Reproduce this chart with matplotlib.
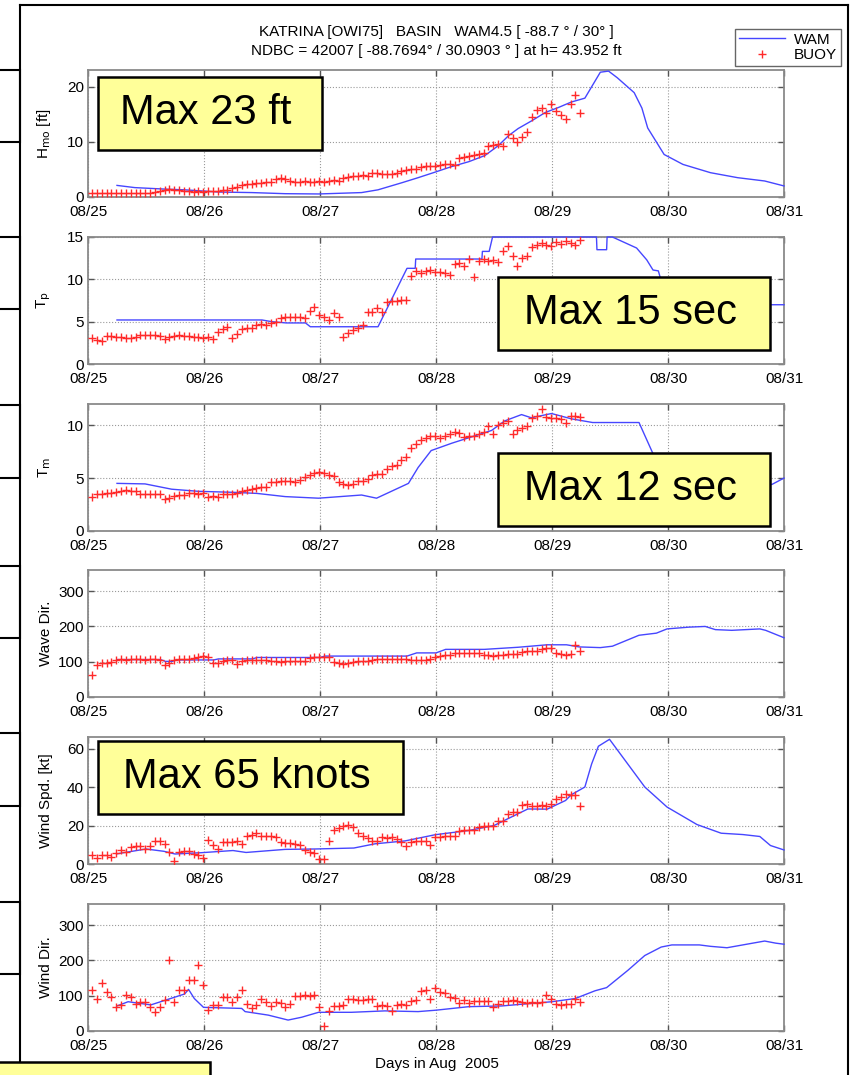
import numpy as np
import matplotlib
matplotlib.use('Agg')
import matplotlib.pyplot as plt
from matplotlib.patches import Rectangle
from matplotlib.lines import Line2D

plt.rcParams['font.family'] = ['Liberation Sans', 'DejaVu Sans']

day_ticks = [25, 26, 27, 28, 29, 30, 31]
day_labels = ['08/25', '08/26', '08/27', '08/28', '08/29', '08/30', '08/31']

# buoy obs, hourly from 08/25 00:50
buoy_hmo = [0.7, 0.7, 0.7, 0.7, 0.7, 0.7, 0.7, 0.7, 0.7, 0.7, 0.7, 0.7, 0.7,
            0.9, 1.0, 1.3, 1.4, 1.3, 1.2, 1.1, 1.0, 0.9, 1.0, 0.9, 1.0, 1.0, 1.1, 1.3, 1.2,
            1.7, 1.9, 2.1, 2.3, 2.3, 2.5, 2.6, 2.7, 2.8, 3.3, 3.4, 3.3,
            2.9, 2.8, 2.8, 2.9, 2.7, 2.8, 2.9, 2.8, 2.9, 3.0, 2.9,
            3.4, 3.6, 3.8, 3.8, 3.9, 3.8, 4.4, 4.3, 4.2, 4.1, 4.2, 4.3,
            4.7, 4.8, 5.0, 5.1, 5.5, 5.6, 5.7, 5.6, 5.8, 5.9, 5.9, 5.8,
            7.0, 7.3, 7.5, 7.6, 7.8, 8.0, 9.2, 9.4, 9.6, 9.3, 11.4,
            10.6, 10.0, 10.8, 11.8, 14.5, 15.8, 16.2, 15.3, 16.8, 15.6,
            14.8, 14.2, 16.8, 18.5, 15.3]
buoy_tp = [3.1, 2.8, 2.7, 3.3, 3.3, 3.2, 3.2, 3.1, 3.1, 3.2,
           3.4, 3.4, 3.4, 3.4, 3.3, 2.9, 3.2, 3.3, 3.4, 3.3, 3.3,
           3.2, 3.2, 3.1, 3.2, 2.9, 3.8, 4.1, 4.4, 3.1, 3.5,
           4.1, 4.2, 4.3, 4.6, 4.7, 4.6, 4.8, 5.0, 5.4, 5.5, 5.5, 5.6, 5.5, 5.4,
           6.3, 6.7, 5.8, 5.5, 5.2, 6.0, 5.5, 3.2, 3.7, 4.0, 4.3, 4.6,
           6.1, 6.2, 6.6, 6.1, 7.3, 7.5, 7.5, 7.6, 7.6, 10.4,
           11.0, 10.8, 11.0, 11.1, 10.9, 10.9, 10.8, 10.5, 11.8, 11.9, 11.6,
           12.4, 10.3, 12.2, 12.4, 12.2, 12.3, 12.0, 13.4, 13.9, 12.8, 11.6,
           12.5, 12.7, 13.8, 14.0, 14.3, 14.1, 13.9, 14.4, 14.2, 14.5, 14.3, 14.1, 14.7]
buoy_tm = [3.2, 3.5, 3.5, 3.6, 3.6, 3.7, 3.8, 3.9, 3.8, 3.8,
           3.5, 3.5, 3.5, 3.5, 3.5, 3.0, 3.1, 3.3, 3.4, 3.4,
           3.6, 3.6, 3.5, 3.6, 3.2, 3.3, 3.2, 3.5, 3.5, 3.5, 3.6,
           3.8, 3.9, 4.0, 4.1, 4.2, 4.2, 4.6, 4.6, 4.7, 4.7, 4.7, 4.6, 4.8,
           5.1, 5.3, 5.5, 5.6, 5.5, 5.3, 5.2, 4.6, 4.4, 4.3, 4.4,
           4.7, 4.7, 4.9, 5.3, 5.4, 5.4, 5.9, 6.1, 6.2, 6.7, 7.0, 7.8, 8.2,
           8.6, 8.8, 9.0, 9.0, 8.8, 9.0, 9.2, 9.4, 9.3, 8.9, 9.0, 9.0,
           9.2, 9.4, 9.9, 9.2, 10.0, 10.2, 10.4, 9.2, 9.5, 9.7, 9.9,
           10.7, 10.9, 11.5, 10.8, 10.7, 10.7, 10.6, 10.2, 10.9, 10.9, 10.8]
buoy_wavedir = [62, 92, 96, 97, 98, 106, 107, 106, 107, 108, 107, 106, 107, 108, 106,
                90, 97, 106, 107, 108, 107, 110, 113, 116, 112, 97, 96,
                103, 104, 105, 93, 101, 104, 105, 106, 105, 106,
                102, 101, 100, 101, 101, 102, 101, 103, 110, 112, 113, 113, 112,
                100, 95, 93, 95, 99, 101, 102, 103,
                106, 107, 108, 108, 109, 108, 108, 107, 106, 106, 105, 106, 107,
                113, 116, 118, 118, 124, 125, 126, 125, 124, 125,
                120, 118, 117, 118, 120, 122, 123, 122, 127, 129, 130, 131,
                135, 138, 139, 125, 121, 120, 123, 146, 129]
buoy_wspd = [4.9, 3.1, 4.8, 4.9, 3.8, 5.6, 7.3, 6.1, 8.8, 9.2, 9.5, 7.9, 9.1,
             11.8, 12.2, 10.5, 6.1, 1.7, 6.3, 6.6, 6.5, 5.2, 4.6, 3.1,
             12.6, 10.1, 7.9, 11.2, 11.4, 11.6, 12.1, 10.5, 14.6, 15.3, 16.2,
             14.5, 14.3, 14.4, 14.0, 11.3, 11.0, 10.8, 10.6, 9.9, 7.4, 6.3, 5.6,
             2.8, 2.6, 12.2, 17.5, 18.6, 19.8, 20.1, 19.4, 16.0, 14.5, 13.6,
             12.2, 12.1, 13.9, 13.6, 13.8, 13.2, 11.6, 9.6, 11.5, 12.2, 12.2, 12.0,
             10.1, 13.9, 14.2, 14.4, 14.5, 14.3, 17.2, 17.6, 17.5, 17.8,
             19.0, 19.6, 19.8, 20.0, 22.2, 22.4, 25.8, 27.2, 26.8, 30.5, 31.2,
             30.0, 30.3, 30.6, 30.4, 31.0, 33.8, 35.0, 36.3, 35.8, 36.1, 30.0]
buoy_winddir = [116, 92, 135, 111, 95, 67, 74, 102, 95, 76, 83, 83, 67, 55, 67, 88,
                201, 83, 116, 116, 144, 144, 187, 130, 59, 74, 74, 97, 97, 83, 95,
                116, 76, 64, 74, 90, 83, 71, 83, 80, 69, 76, 98, 100, 102, 99, 101,
                67, 14, 58, 70, 72, 75, 90, 90, 88, 88, 90, 92, 72, 73, 70, 58, 74,
                76, 74, 85, 87, 112, 116, 90, 121, 110, 108, 95, 93, 78, 88, 78,
                86, 84, 86, 85, 67, 76, 86, 85, 87, 86, 81, 80, 82, 79, 81, 102,
                90, 76, 75, 76, 77, 92, 83]

# WAM model, vertices as (hour after 08/25 00:00, value)
wam_hmo_h = [6, 9.7, 16.6, 20, 27, 33.9, 40.8, 47.7, 56.6, 60, 65, 68.3, 71.8, 75.2,
             78.8, 82.1, 84.9, 87, 89, 91.8, 94.6, 97.3, 100, 102.8, 104.5, 106, 107.7,
             109.5, 113, 114.6, 115.8, 117.5, 119.2, 123.1, 128.8, 134.4, 140, 144]
wam_hmo = [2.1, 1.7, 1.4, 1.3, 0.9, 0.8, 0.6, 0.55, 0.8, 1.3, 2.6, 3.5, 4.5, 5.5,
           6.4, 7.5, 9.3, 11.1, 12.4, 13.8, 15.3, 16.2, 17.2, 17.9, 20.4, 22.6, 22.8,
           21.6, 18.9, 16.1, 12.5, 10.1, 7.7, 5.9, 4.4, 3.5, 2.9, 2.0]
wam_tp_h = [6, 36, 38, 41, 45, 46, 60, 66, 67.7, 67.8, 81.5, 81.6, 83, 83.7,
            105.2, 105.3, 107.3, 107.4, 108.5, 113.5, 115.6, 116.9, 118, 119, 121, 123, 144]
wam_tp = [5.2, 5.2, 5.0, 4.85, 4.85, 4.4, 4.4, 11.3, 11.3, 12.4, 12.4, 13.3, 13.3, 15.0,
          15.0, 13.5, 13.5, 15.0, 15.0, 13.7, 12.3, 11.1, 11.0, 9.0, 8.0, 7.0, 7.0]
wam_tm_h = [6, 11.8, 17.3, 22.8, 30.4, 35, 40.8, 47.7, 56.6, 59.7, 66.3, 68.3, 71, 75.3,
            79.4, 83.5, 86.2, 89.7, 91.7, 95.9, 100, 104.4, 114, 116.9, 119, 122, 132,
            141.5, 144]
wam_tm = [4.5, 4.45, 3.95, 3.75, 3.65, 3.55, 3.25, 3.1, 3.4, 3.1, 4.5, 6.0, 7.6, 8.3,
          8.9, 9.5, 10.4, 11.0, 10.7, 11.1, 10.6, 10.25, 10.25, 7.3, 5.5, 4.8, 4.6,
          4.4, 5.0]
wam_wavedir_h = [6, 15, 16, 17.5, 18, 26, 27, 34, 35, 48, 49, 66, 68, 72, 74, 82, 89, 95,
                 99, 101.6, 106, 108.5, 114, 117.6, 119.8, 124.3, 127.7, 129.8, 133.2,
                 139, 140.2, 144]
wam_wavedir = [106, 106, 101, 101, 105, 105, 108, 108, 112, 112, 116, 116, 125, 125, 135,
               135, 141, 148, 148, 142, 140, 144, 175, 181, 193, 198, 200, 191, 189, 193,
               189, 168]
wam_wspd_h = [6, 12, 15.7, 18, 23.6, 30, 32.7, 40.8, 47, 55, 59.4, 65.6, 71.8, 79,
              84, 91, 95, 98.8, 100, 102.8, 104.2, 105.6, 107.9, 115.2, 119.8, 126, 131,
              135.5, 139, 141.2, 144]
wam_wspd = [5.3, 7.8, 6.6, 5.2, 5.9, 7.0, 6.0, 7.6, 7.8, 8.3, 10.5, 12.0, 15.2, 17.5,
            20.0, 28.6, 28.5, 33.0, 36.0, 40.0, 52.0, 61.2, 64.8, 40.0, 29.6, 20.5, 16.0,
            15.3, 14.3, 9.6, 7.3]
wam_winddir_h = [6, 8.3, 13, 20, 20.8, 22, 23.9, 31.8, 32.5, 37.3, 41.4, 44.2, 47.7, 54.5,
                 61.4, 68.3, 72, 78.8, 85.6, 89, 96, 100.8, 104.9, 107.3, 111.7, 115.2,
                 118.6, 120.8, 126.5, 128.8, 132.2, 136.7, 140, 142.3, 144]
wam_winddir = [71, 83, 74, 105, 118, 92, 67, 64, 55, 45, 31, 39, 53, 53, 57, 55, 59, 69,
               71, 75, 83, 92, 114, 123, 172, 214, 238, 244, 244, 240, 236, 247, 255,
               249, 246]

panels = [
    (r'H$_{\rm mo}$ [ft]', wam_hmo_h, wam_hmo, buoy_hmo, 23, [0, 10, 20]),
    (r'T$_{\rm p}$', wam_tp_h, wam_tp, buoy_tp, 15, [0, 5, 10, 15]),
    (r'T$_{\rm m}$', wam_tm_h, wam_tm, buoy_tm, 12, [0, 5, 10]),
    ('Wave Dir.', wam_wavedir_h, wam_wavedir, buoy_wavedir, 360, [0, 100, 200, 300]),
    ('Wind Spd. [kt]', wam_wspd_h, wam_wspd, buoy_wspd, 66, [0, 20, 40, 60]),
    ('Wind Dir.', wam_winddir_h, wam_winddir, buoy_winddir, 360, [0, 100, 200, 300]),
]

W, H = 856, 1075
fig = plt.figure(figsize=(W / 100, H / 100), dpi=100)

tops = [70, 237, 404, 570, 737, 904]
axh = 127
axes = []
for top, (ylab, wh, wv, bv, ymax, yt) in zip(tops, panels):
    ax = fig.add_axes([88 / W, 1 - (top + axh) / H, 696 / W, axh / H])
    xw = 25 + np.array(wh) / 24.0
    xb = 25 + (np.arange(len(bv)) + 0.83) / 24.0
    ax.plot(xw, wv, color='#4646ff', lw=1.0, label='WAM', clip_on=False, zorder=3)
    ax.plot(xb, bv, '+', color='#ff2a2a', ms=6, mew=1.0, label='BUOY', zorder=3)
    ax.set_xlim(25, 31)
    ax.set_ylim(0, ymax)
    ax.set_xticks(day_ticks)
    ax.set_xticklabels(day_labels)
    ax.set_yticks(yt)
    ax.grid(True, linestyle=':', color='#9a9a9a', lw=0.8)
    ax.tick_params(direction='in', top=True, right=True, length=4, width=1,
                   labelsize=11, color='#555555')
    ax.tick_params(axis='x', pad=6)
    ax.tick_params(axis='y', pad=3)
    for s in ax.spines.values():
        s.set_color('#8a8a8a')
        s.set_linewidth(1.3)
        s.set_zorder(2.5)
    ax.set_ylabel(ylab, fontsize=11)
    ax.yaxis.set_label_coords(-0.05, 0.5)
    axes.append(ax)

fig.text(436 / W, 1 - 32 / H, 'KATRINA [OWI75]   BASIN   WAM4.5 [ -88.7 \u00b0 / 30\u00b0 ]',
         ha='center', va='center', fontsize=11)
fig.text(436 / W, 1 - 51 / H, 'NDBC = 42007 [ -88.7694\u00b0 / 30.0903 \u00b0 ] at h= 43.952 ft',
         ha='center', va='center', fontsize=11)
fig.text(437 / W, 1 - 1064 / H, 'Days in Aug  2005', ha='center', va='center', fontsize=11)

h, l = axes[0].get_legend_handles_labels()
fig.legend(h, l, loc='upper right', bbox_to_anchor=(841 / W, 1 - 29 / H), fontsize=11,
           frameon=True, fancybox=False, edgecolor='#666666', framealpha=1,
           borderpad=0.25, labelspacing=0.1, handlelength=3.0, handletextpad=0.6,
           borderaxespad=0)

# outer frame
for xs, ys in [([20, 20], [5, 1075]), ([20, 848], [5, 5]), ([848, 848], [5, 1075])]:
    fig.add_artist(Line2D(np.array(xs) / W, 1 - np.array(ys) / H, color='black', lw=1.5))

# side boxes cut by the left edge
for y0, y1 in [(70, 142), (237, 309), (405, 478), (566, 638), (733, 806), (902, 974)]:
    fig.add_artist(Rectangle((-10 / W, 1 - y1 / H), 30 / W, (y1 - y0) / H,
                             facecolor='white', edgecolor='black', lw=1.5))

# yellow call-outs
notes = [('Max 23 ft', 98, 322, 77, 150),
         ('Max 15 sec', 498, 770, 277, 350),
         ('Max 12 sec', 498, 770, 453, 526),
         ('Max 65 knots', 98, 403, 741, 814),
         ('', -10, 210, 1062, 1090)]
for txt, x0, x1, y0, y1 in notes:
    fig.add_artist(Rectangle((x0 / W, 1 - y1 / H), (x1 - x0) / W, (y1 - y0) / H,
                             facecolor='#ffff99', edgecolor='black', lw=1.8, zorder=5))
    if txt:
        fig.text((x0 + x1) / 2 / W - 4 / W, 1 - (y0 + y1) / 2 / H, txt, ha='center',
                 va='center', fontsize=30, zorder=6)

fig.savefig('out.png', dpi=100)
